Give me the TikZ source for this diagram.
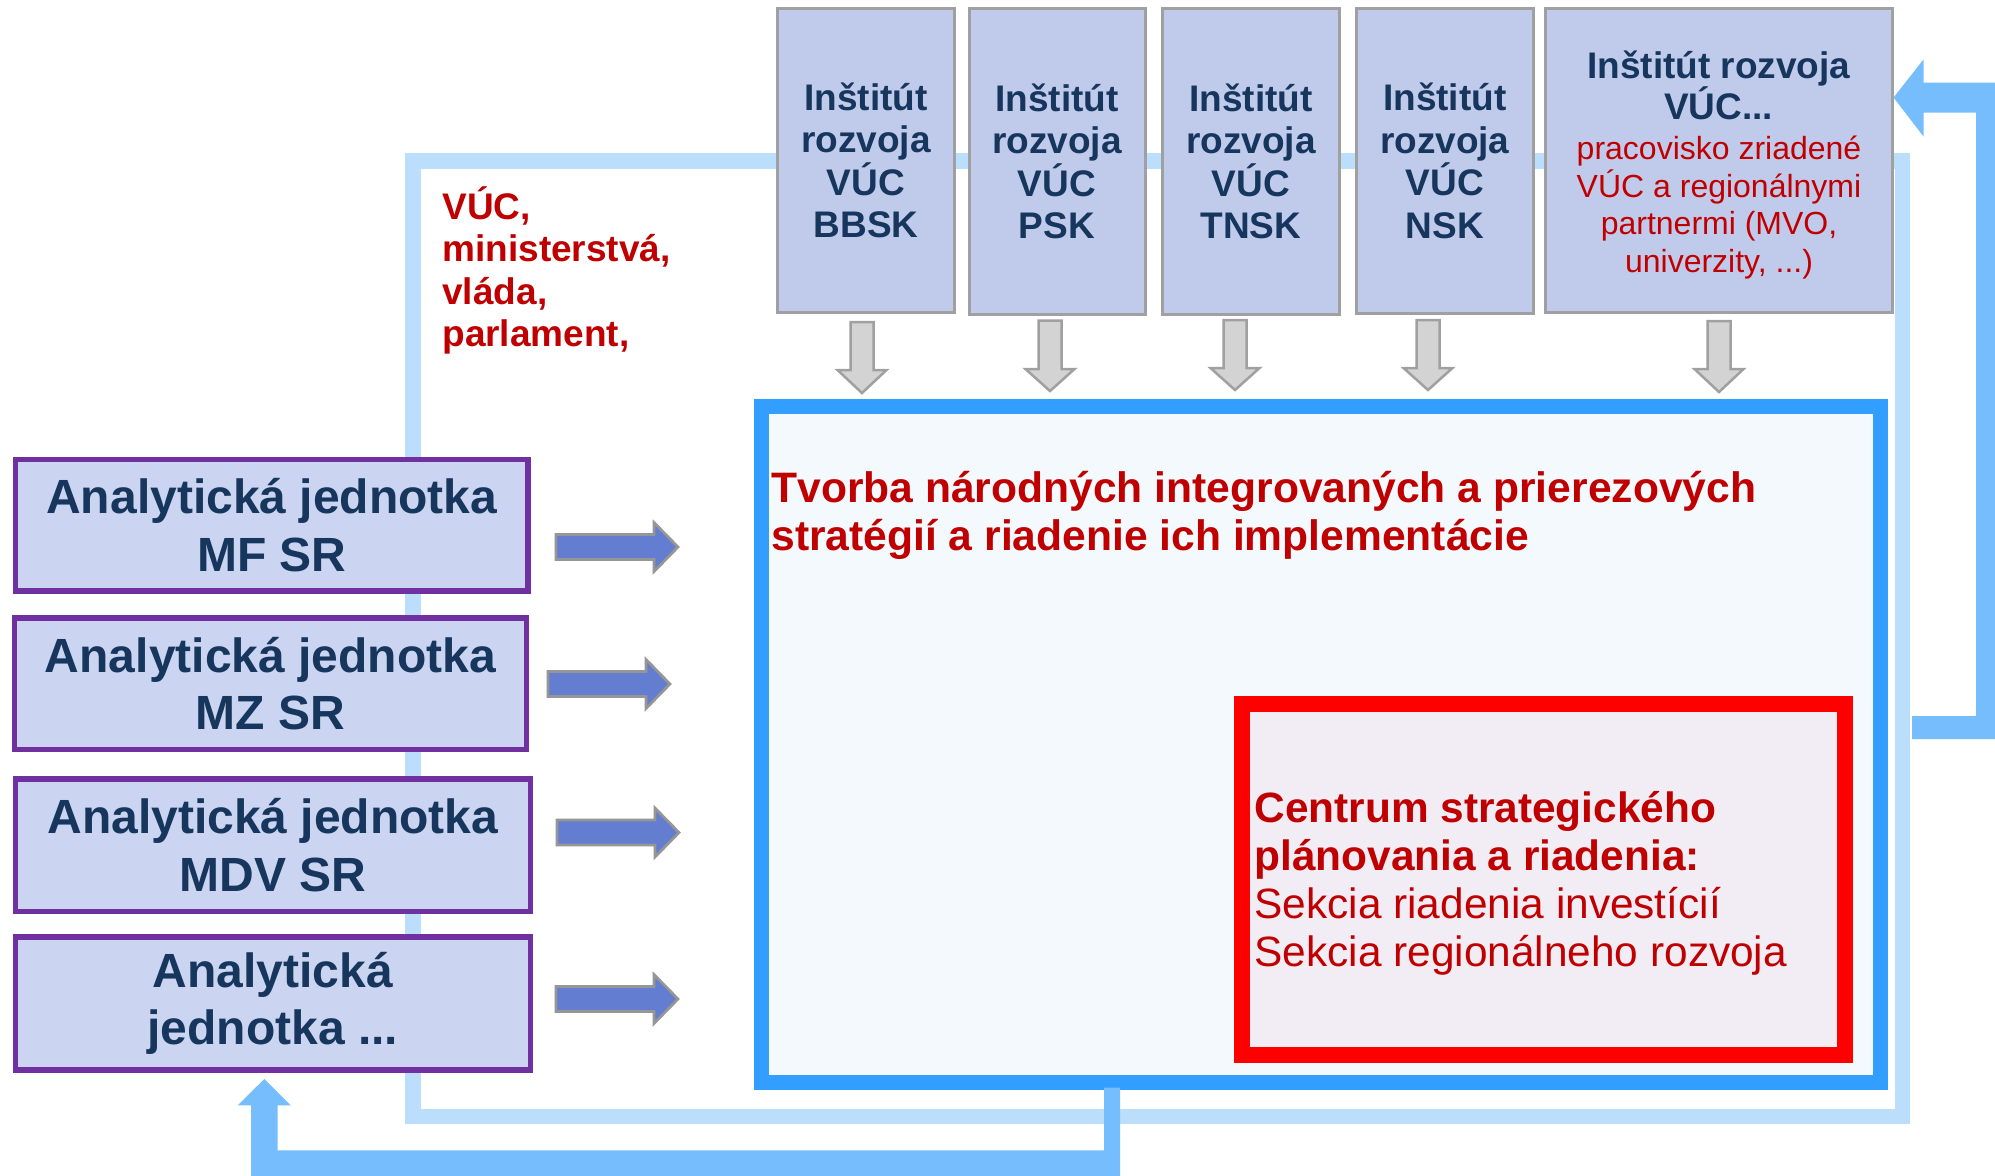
\documentclass[tikz,border=0pt]{standalone}
\usepackage{fontspec}
\setmainfont{Liberation Sans}
\definecolor{pale}{RGB}{187,222,252}
\definecolor{mblue}{RGB}{50,158,255}
\definecolor{mfill}{RGB}{244,249,253}
\definecolor{rfill}{RGB}{242,237,244}
\definecolor{lblue}{RGB}{117,189,253}
\definecolor{topfill}{RGB}{192,203,236}
\definecolor{anafill}{RGB}{203,212,240}
\definecolor{boxgray}{RGB}{160,160,160}
\definecolor{purp}{RGB}{112,48,160}
\definecolor{navy}{RGB}{23,54,93}
\definecolor{dred}{RGB}{192,0,0}
\definecolor{barfill}{RGB}{99,125,209}
\definecolor{arrgray}{RGB}{150,150,150}
\definecolor{garfill}{RGB}{211,211,211}
\newcommand\grayarr[4]{%
  \draw[garrow] (#1-11.5,#2) -- (#1+11.5,#2) -- (#1+11.5,#3) -- (#1+24.5,#3)
    -- (#1,#4) -- (#1-24.5,#3) -- (#1-11.5,#3) -- cycle;}
\newcommand\bluearr[2]{%
  \draw[barrow] (#1,#2-12.5) -- (#1+98,#2-12.5) -- (#1+98,#2-24.5) -- (#1+122,#2)
    -- (#1+98,#2+24.5) -- (#1+98,#2+12.5) -- (#1,#2+12.5) -- cycle;}
\begin{document}
\begin{tikzpicture}[x=0.5pt,y=-0.5pt,
  topbox/.style={draw=boxgray, line width=1.5pt, fill=topfill, inner sep=0pt,
    font=\fontsize{18.5}{21.25}\selectfont\bfseries, text=navy, align=center},
  anabox/.style={draw=purp, line width=2.75pt, fill=anafill, inner sep=0pt,
    font=\fontsize{24}{28.85}\selectfont\bfseries, text=navy, align=center},
  mainbox/.style={draw=mblue, line width=7.5pt, fill=mfill, inner sep=0pt},
  redbox/.style={draw=red, line width=8pt, fill=rfill, inner sep=0pt},
  bigtext/.style={font=\fontsize{21.2}{24}\selectfont, text=dred, align=left, inner sep=0pt},
  garrow/.style={draw=boxgray, line width=1.25pt, fill=garfill, line join=miter},
  barrow/.style={draw=arrgray, line width=1.35pt, fill=barfill, line join=miter},
  bigarrow/.style={fill=lblue, draw=none}]
\useasboundingbox (0,0) rectangle (1995,1175);
\clip (0,0) rectangle (1995,1175);
\fill[white] (0,0) rectangle (1995,1175);
% pale frame
\draw[pale, line width=7.75pt] (412.75,160.75) rectangle (1902.25,1116.25);
% top boxes
\node[topbox, minimum width=88.5pt, minimum height=152pt] (t1) at (866,160.5) {Inštitút\\rozvoja\\VÚC\\BBSK};
\node[topbox, minimum width=88pt, minimum height=152.75pt] (t2) at (1057,161.25) {Inštitút\\rozvoja\\VÚC\\PSK};
\node[topbox, minimum width=88.5pt, minimum height=152.75pt] (t3) at (1251,161.25) {Inštitút\\rozvoja\\VÚC\\TNSK};
\node[topbox, minimum width=88.25pt, minimum height=152.5pt] (t4) at (1444.75,161) {Inštitút\\rozvoja\\VÚC\\NSK};
\node[topbox, minimum width=173.25pt, minimum height=152pt] (t5) at (1718.75,160.5) {};
\node[font=\fontsize{18.5}{20.5}\selectfont\bfseries, text=navy, align=center, inner sep=0pt]
  (t5a) at (1718.75,85) {Inštitút rozvoja\\VÚC...};
\node[font=\fontsize{16}{18.75}\selectfont, text=dred, align=center, inner sep=0pt]
  (t5b) at (1719,207.5) {pracovisko zriadené\\VÚC a regionálnymi\\partnermi (MVO,\\univerzity, ...)};
% left boxes
\node[anabox, minimum width=256.25pt, minimum height=65.75pt] (a1) at (271.75,525.25) {Analytická jednotka\\MF SR};
\node[anabox, minimum width=255.9pt, minimum height=65.75pt] (a2) at (270.4,683.5) {Analytická jednotka\\MZ SR};
\node[anabox, minimum width=257.4pt, minimum height=66.25pt] (a3) at (272.9,845) {Analytická jednotka\\MDV SR};
\node[anabox, minimum width=257.4pt, minimum height=66.6pt] (a4) at (272.9,1003.4) {Analytická\\jednotka ...};
% main box
\node[mainbox, minimum width=559.35pt, minimum height=338pt] (main) at (1320.85,744.5) {};
\node[bigtext, font=\fontsize{21.3}{24}\selectfont\bfseries, anchor=west] (title) at (771,515.5)
  {Tvorba národných integrovaných a prierezových\\stratégií a riadenie ich implementácie};
% red box
\node[redbox, minimum width=301.7pt, minimum height=175.4pt] (csp) at (1543.7,879.4) {};
\node[bigtext, anchor=west] (csptext) at (1254,883)
  {\textbf{Centrum strategického}\\\textbf{plánovania a riadenia:}\\Sekcia riadenia investícií\\Sekcia regionálneho rozvoja};
% VUC text
\node[font=\fontsize{18.5}{21.25}\selectfont\bfseries, text=dred, align=left, inner sep=0pt, anchor=west]
  (vuc) at (442,270.5) {VÚC,\\ministerstvá,\\vláda,\\parlament,};
% gray arrows
\grayarr{862}{322}{370}{393}
\grayarr{1050}{320.5}{369}{391}
\grayarr{1235}{320}{368}{390}
\grayarr{1428}{320}{368}{390}
\grayarr{1719}{321}{369}{392}
% blue arrows
\bluearr{556}{547}
\bluearr{548}{684}
\bluearr{557}{832.5}
\bluearr{556}{999}
% big L arrows
\fill[bigarrow] (1893.5,97.5) -- (1923.5,59.5) -- (1923.5,82.7) -- (2010,82.7) -- (2010,739)
  -- (1912,739) -- (1912,716) -- (1976,716) -- (1976,112.7) -- (1923.5,112.7)
  -- (1923.5,136.5) -- cycle;
\fill[bigarrow] (1104,1087.5) -- (1120,1087.5) -- (1120,1185) -- (251,1185) -- (251,1105.3)
  -- (237.7,1105.3) -- (264.3,1079) -- (290.7,1105.3) -- (277.7,1105.3) -- (277.7,1150.3)
  -- (1104,1150.3) -- cycle;
\end{tikzpicture}
\end{document}
